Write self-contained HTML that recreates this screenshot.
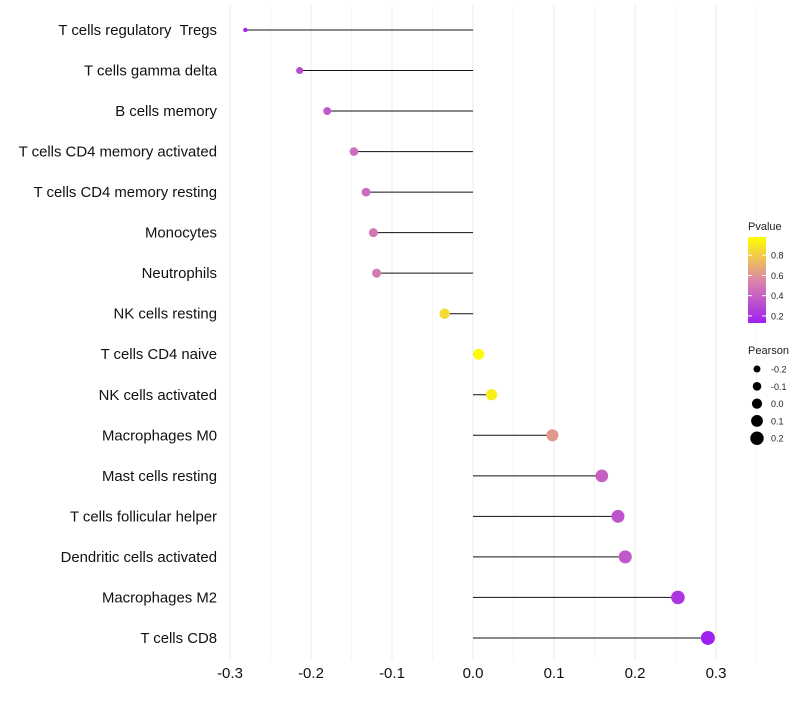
<!DOCTYPE html>
<html><head><meta charset="utf-8"><style>
body{margin:0;background:#fff;font-family:"Liberation Sans",sans-serif}
</style></head><body>
<svg id="chart" width="800" height="700" xmlns="http://www.w3.org/2000/svg"></svg>
<script>
const categories=["T cells regulatory  Tregs","T cells gamma delta","B cells memory","T cells CD4 memory activated","T cells CD4 memory resting","Monocytes","Neutrophils","NK cells resting","T cells CD4 naive","NK cells activated","Macrophages M0","Mast cells resting","T cells follicular helper","Dendritic cells activated","Macrophages M2","T cells CD8"];
const pearson=[-0.281,-0.214,-0.180,-0.147,-0.132,-0.123,-0.119,-0.035,0.007,0.023,0.098,0.159,0.179,0.188,0.253,0.290];
const pvalue=[0.15,0.30,0.36,0.45,0.45,0.48,0.50,0.85,0.97,0.92,0.62,0.40,0.34,0.36,0.22,0.13];
const xTicks=[-0.3,-0.2,-0.1,0.0,0.1,0.2,0.3];
const pTicks=[0.2,0.4,0.6,0.8];
const sTicks=[-0.2,-0.1,0.0,0.1,0.2];
const NS="http://www.w3.org/2000/svg";
const svg=document.getElementById('chart');
function mk(t,a,p){const e=document.createElementNS(NS,t);for(const k in a)e.setAttribute(k,a[k]);(p||svg).appendChild(e);return e;}
const x=v=>473+v*810;
const y=i=>30+i*40.53;
const r=v=>Math.sqrt(4+Math.pow(Math.max(0,(v+0.285)/0.575),0.8)*45);
function lerp(a,b,t){return a.map((c,i)=>Math.round(c+(b[i]-c)*t));}
function color(p){const t=Math.max(0,Math.min(1,(p-0.13)/0.85));
 const c0=[160,32,240],c1=[220,135,168],c2=[255,255,0];
 const c=t<0.5?lerp(c0,c1,t/0.5):lerp(c1,c2,(t-0.5)/0.5);return `rgb(${c})`;}
for(let k=-0.3;k<=0.351;k+=0.05){const g=mk('line',{x1:x(k),x2:x(k),y1:5,y2:660,stroke:Math.abs(Math.round(k*100))%10==0?'#ebebeb':'#f5f5f5','stroke-width':1});
}
xTicks.forEach(t=>{const e=mk('text',{x:x(t),y:678,'text-anchor':'middle','font-size':15,fill:'#111'});e.textContent=t.toFixed(1);
});
categories.forEach((c,i)=>{
 const l=mk('text',{x:217,y:y(i)+5,'text-anchor':'end','font-size':14.9,fill:'#111',style:'white-space:pre'});l.textContent=c;
 
 const s=mk('line',{x1:x(0),x2:x(pearson[i]),y1:y(i),y2:y(i),stroke:'#111','stroke-width':1});
 
 const d=mk('circle',{cx:x(pearson[i]),cy:y(i),r:r(pearson[i]),fill:color(pvalue[i])});
 
});
const lt=mk('text',{x:748,y:230,'font-size':11,fill:'#222'});lt.textContent='Pvalue';

const defs=mk('defs',{});const gr=mk('linearGradient',{id:'pg',x1:0,y1:1,x2:0,y2:0},defs);
[0,0.25,0.5,0.75,1].forEach(t=>mk('stop',{offset:t,'stop-color':color(0.13+t*0.85)},gr));
const bar=mk('rect',{x:748,y:237,width:18,height:86,fill:'url(#pg)'});

pTicks.forEach(p=>{const yy=323-(p-0.13)/0.85*86;
 mk('line',{x1:748,x2:752,y1:yy,y2:yy,stroke:'#fff'});mk('line',{x1:762,x2:766,y1:yy,y2:yy,stroke:'#fff'});
 const e=mk('text',{x:771,y:yy+3.5,'font-size':9,fill:'#222'});e.textContent=p.toFixed(1);
 });
const st=mk('text',{x:748,y:354,'font-size':11,fill:'#222'});st.textContent='Pearson';

sTicks.forEach((v,i)=>{const yy=369+i*17.3;
 const c=mk('circle',{cx:757,cy:yy,r:3.5+i*0.8,fill:'#000'});
 
 const e=mk('text',{x:771,y:yy+3.5,'font-size':9,fill:'#222'});e.textContent=v.toFixed(1);
 });
</script>
</body></html>
